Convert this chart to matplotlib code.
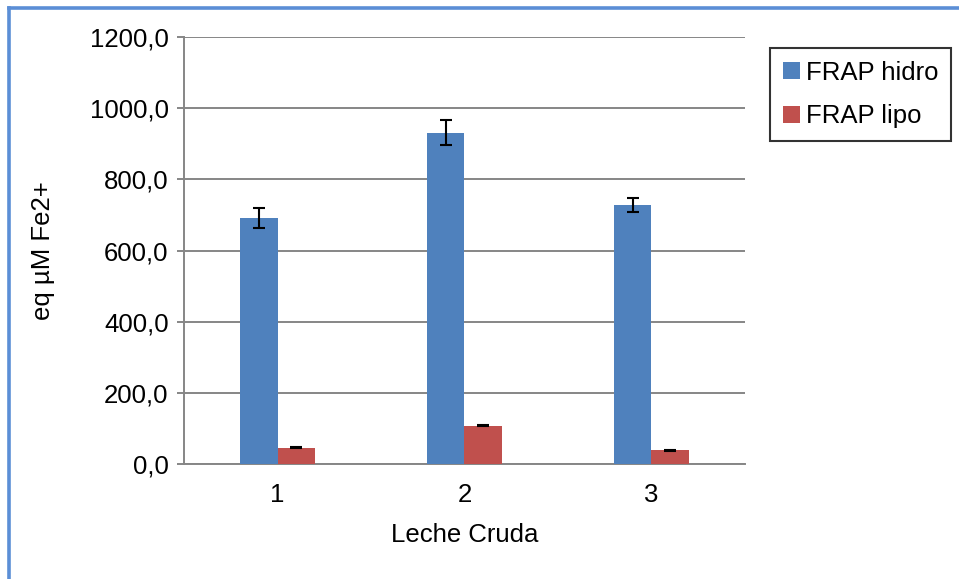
import matplotlib
matplotlib.use("Agg")
import matplotlib.pyplot as plt
from matplotlib.lines import Line2D
import numpy as np

plt.rcParams['font.family'] = ['Liberation Sans', 'DejaVu Sans']

categories = ["1", "2", "3"]
frap_hidro = [691, 931, 727]
frap_hidro_err = [28, 35, 20]
frap_lipo = [46, 108, 38]
frap_lipo_err = [2, 2, 1.5]
yticks = [0, 200, 400, 600, 800, 1000, 1200]
ytick_labels = ["0,0", "200,0", "400,0", "600,0", "800,0", "1000,0", "1200,0"]

W, H = 959, 579
fig = plt.figure(figsize=(W / 100, H / 100), dpi=100)
ax = fig.add_axes([184 / W, 1 - 464 / H, (745 - 184) / W, (464 - 37) / H])

x = np.arange(len(categories))
bw = 0.198
blue = "#4F81BD"
red = "#C0504D"
err_kw = dict(ecolor="black", elinewidth=1.5, capthick=1.5)

ax.bar(x - bw / 2, frap_hidro, bw, color=blue, label="FRAP hidro",
       yerr=frap_hidro_err, capsize=4.5, error_kw=err_kw, zorder=3)
ax.bar(x + bw / 2, frap_lipo, bw, color=red, label="FRAP lipo",
       yerr=frap_lipo_err, capsize=4.5, error_kw=err_kw, zorder=3)

ax.set_xlim(-0.5, 2.5)
ax.set_ylim(0, 1200)
ax.set_yticks(yticks)
ax.set_yticklabels(ytick_labels)
ax.set_xticks(x)
ax.set_xticklabels(categories)

fs = 18.5
grey = "#868686"
ax.yaxis.grid(True, color=grey, linewidth=1.4, zorder=0)
ax.set_axisbelow(True)
for side in ["top", "right"]:
    ax.spines[side].set_visible(False)
for side in ["left", "bottom"]:
    ax.spines[side].set_color(grey)
    ax.spines[side].set_linewidth(1.4)

ax.tick_params(axis="y", direction="out", length=5, width=1.4, color=grey,
               labelsize=fs, pad=6)
ax.tick_params(axis="x", length=0, labelsize=fs, pad=14)

ax.set_xlabel("Leche Cruda", fontsize=fs, labelpad=11)
ax.set_ylabel("eq µM Fe2+", fontsize=fs, labelpad=25)

leg = fig.legend(loc="upper left", bbox_to_anchor=(770 / W, 1 - 48 / H),
                 fontsize=fs, frameon=True, fancybox=False,
                 handlelength=0.65, handleheight=0.65, handletextpad=0.25,
                 borderpad=0.5, labelspacing=0.75, borderaxespad=0)
leg.get_frame().set_edgecolor("black")
leg.get_frame().set_linewidth(1.5)

# blue frame along the top and left of the figure
border = "#5B8ED6"
fig.add_artist(Line2D([9 / W, 1.0], [1 - 8 / H, 1 - 8 / H], color=border,
                      linewidth=2.6, transform=fig.transFigure))
fig.add_artist(Line2D([9 / W, 9 / W], [0.0, 1 - 8 / H], color=border,
                      linewidth=2.6, transform=fig.transFigure))

fig.savefig("out.png", dpi=100)
